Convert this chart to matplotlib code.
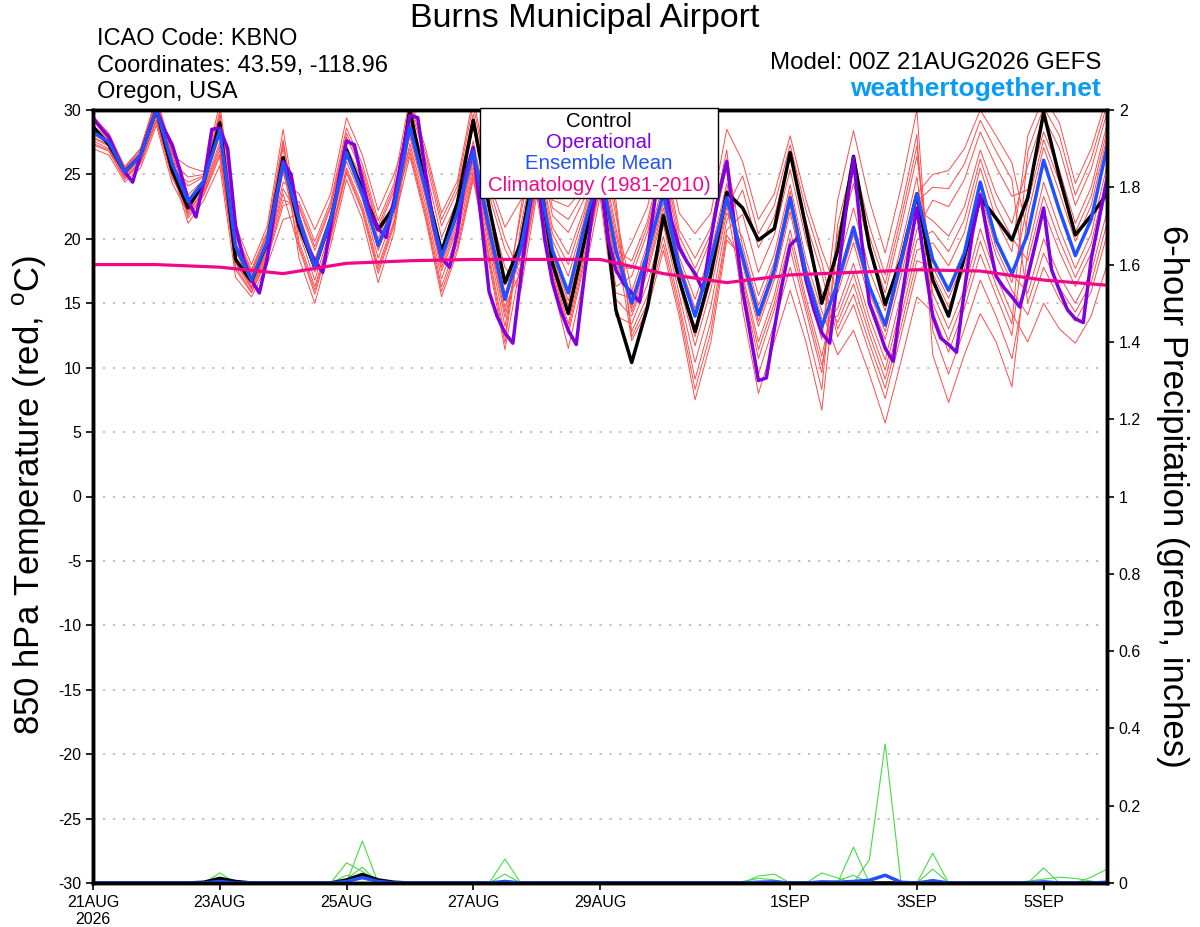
import matplotlib
matplotlib.use("Agg")
import matplotlib.pyplot as plt
import numpy as np
from matplotlib.patches import Rectangle

plt.rcParams['font.family'] = ['Liberation Sans', 'DejaVu Sans']
plt.rcParams['mathtext.fontset'] = 'custom'
plt.rcParams['mathtext.rm'] = 'Liberation Sans'
plt.rcParams['axes.unicode_minus'] = False

# 850 hPa temperature (deg C), 6-hourly from 00Z 21AUG2026
control = [28.7, 27.3, 25.2, 26.5, 30.0, 25.3, 22.4, 24.4, 29.0, 18.4, 16.7, 19.7, 26.3,
           21.0, 17.8, 21.5, 26.9, 23.8, 20.7, 22.5, 30.0, 24.0, 19.0, 22.8, 29.2, 22.5,
           16.6, 19.7, 26.5, 18.1, 14.2, 19.7, 25.5, 14.5, 10.4, 14.7, 21.8, 16.8, 12.8,
           17.3, 23.6, 22.4, 19.9, 20.8, 26.7, 20.9, 15.0, 19.1, 26.4, 19.4, 14.9, 18.4,
           23.5, 16.8, 14.0, 18.6, 23.2, 21.6, 19.9, 23.2, 29.8, 24.8, 20.3, 21.8, 23.5]

ens_mean = [28.3, 27.5, 25.2, 26.5, 30.0, 25.8, 22.9, 24.5, 28.4, 19.4, 16.8, 19.8, 25.9,
            21.5, 17.8, 21.5, 26.7, 23.5, 19.5, 22.4, 28.7, 23.8, 18.6, 22.0, 26.8, 20.8,
            15.3, 19.3, 25.5, 19.1, 15.8, 20.9, 25.5, 19.1, 15.0, 18.9, 23.5, 17.8, 14.0,
            18.4, 23.2, 18.6, 14.1, 17.6, 23.2, 17.3, 13.2, 16.6, 20.9, 16.3, 13.3, 18.3,
            23.5, 18.4, 16.0, 18.9, 24.4, 19.9, 17.3, 20.4, 26.1, 22.2, 18.7, 21.5, 27.1]

# operational run, 3-hourly
operational = [29.4, 28.6, 27.9, 26.5, 25.2, 24.4, 26.5, 28.3, 30.0, 28.5, 27.3, 25.3, 23.0,
               21.7, 24.5, 28.5, 28.6, 27.0, 21.0, 18.4, 16.8, 15.8, 18.5, 22.5, 26.0, 25.0,
               21.5, 19.5, 18.3, 17.4, 21.0, 24.5, 27.6, 27.3, 24.5, 22.0, 20.8, 20.1, 23.0,
               26.5, 29.6, 29.4, 25.0, 21.0, 18.5, 17.8, 20.5, 25.0, 27.1, 21.5, 15.9, 14.0,
               12.7, 11.9, 17.0, 22.0, 25.5, 20.0, 16.6, 14.5, 12.9, 11.8, 17.0, 22.0, 25.0,
               20.0, 17.6, 16.5, 15.8, 15.1, 19.0, 23.3, 25.0, 21.5, 19.3, 18.2, 17.3, 16.0,
               20.0, 23.5, 26.0, 21.0, 16.0, 12.5, 9.0, 9.2, 13.0, 16.5, 19.5, 20.1, 16.8,
               14.5, 12.7, 11.9, 17.0, 22.0, 26.3, 20.0, 15.0, 13.3, 11.5, 10.5, 15.0, 19.0,
               22.4, 18.0, 14.0, 12.3, 11.8, 11.2, 16.0, 20.4, 23.4, 20.0, 17.1, 16.2, 15.5,
               14.7, 17.1, 19.7, 22.4, 17.6, 16.0, 14.5, 13.8, 13.5, 18.4, 21.5, 24.7]

# climatology (1981-2010), daily
climatology = [18.0, 18.0, 17.8, 17.3, 18.1, 18.3, 18.4, 18.4, 18.4, 17.3, 16.6, 17.2,
               17.4, 17.6, 17.5, 16.8, 16.4]

member_01 = [29.5, 28.2, 25.6, 27.0, 31.0, 26.8, 23.4, 24.6, 28.8, 19.7, 17.0, 20.0, 26.4,
             22.4, 19.1, 22.4, 27.9, 25.1, 20.7, 23.7, 27.9, 23.1, 17.5, 20.8, 26.0, 19.8,
             13.9, 19.3, 25.5, 19.1, 15.8, 20.9, 25.5, 19.1, 18.3, 21.4, 26.7, 20.7, 18.5,
             20.9, 26.9, 16.3, 10.7, 14.5, 19.2, 14.4, 9.6, 19.5, 24.3, 19.3, 15.8, 20.9,
             26.4, 17.3, 14.7, 17.7, 22.9, 18.7, 16.0, 14.1, 17.8, 15.3, 13.6, 15.9, 20.3]
member_02 = [29.1, 28.0, 25.5, 26.9, 30.7, 26.5, 25.6, 25.2, 30.5, 21.0, 18.0, 21.0, 28.5,
             21.0, 17.4, 21.2, 26.4, 23.6, 19.1, 22.3, 30.3, 26.1, 21.0, 23.7, 29.7, 23.4,
             19.2, 16.8, 23.9, 17.1, 12.6, 18.0, 23.9, 15.3, 14.0, 17.4, 22.0, 16.5, 11.7,
             16.1, 22.0, 20.1, 15.6, 18.8, 24.2, 18.4, 14.4, 11.0, 12.9, 9.5, 5.7, 10.5,
             15.5, 14.3, 11.2, 14.6, 18.8, 15.6, 12.5, 21.9, 27.1, 23.6, 19.8, 22.6, 27.9]
member_03 = [28.8, 27.8, 25.4, 26.7, 30.5, 26.3, 22.3, 24.0, 27.5, 18.6, 16.3, 19.2, 24.4,
             23.5, 20.7, 23.5, 29.4, 26.5, 22.2, 25.0, 28.7, 24.0, 18.6, 21.8, 26.8, 20.8,
             15.3, 21.9, 28.0, 21.8, 20.5, 23.1, 28.0, 21.8, 15.9, 19.6, 24.4, 18.6, 15.3,
             19.0, 24.3, 18.0, 13.2, 16.8, 22.1, 16.5, 12.2, 23.0, 28.4, 23.0, 18.9, 24.0,
             30.0, 12.9, 9.5, 13.0, 16.8, 14.0, 10.7, 17.5, 22.2, 19.0, 16.3, 18.9, 23.9]
member_04 = [28.5, 27.6, 25.3, 26.6, 30.2, 26.0, 24.8, 25.0, 29.9, 20.5, 17.6, 20.6, 27.7,
             19.8, 16.3, 20.4, 25.5, 22.6, 17.9, 21.4, 26.4, 21.5, 15.5, 19.0, 24.6, 18.0,
             11.4, 18.1, 24.7, 18.2, 14.3, 19.5, 24.7, 17.3, 19.7, 22.5, 28.0, 22.0, 20.4,
             22.0, 28.5, 26.0, 21.5, 23.5, 28.0, 23.0, 19.1, 15.8, 19.7, 15.3, 12.2, 17.1,
             22.3, 21.4, 20.2, 22.5, 26.9, 23.5, 21.2, 25.7, 29.5, 27.0, 22.6, 25.4, 29.8]
member_05 = [28.3, 27.5, 25.2, 26.5, 30.0, 25.8, 21.6, 23.4, 26.4, 17.6, 15.8, 18.4, 22.6,
             22.9, 19.8, 22.9, 28.6, 25.8, 21.4, 24.3, 31.0, 27.0, 22.0, 24.5, 31.0, 24.5,
             20.9, 23.0, 29.0, 23.0, 22.5, 24.0, 29.0, 23.0, 12.8, 15.6, 20.2, 15.0, 9.1,
             13.6, 20.7, 21.9, 17.4, 20.3, 25.4, 19.9, 15.9, 13.5, 16.5, 12.6, 9.1, 14.0,
             19.1, 19.7, 17.9, 20.5, 25.5, 21.5, 19.0, 28.0, 31.0, 29.0, 24.3, 27.0, 31.0]
member_06 = [28.1, 27.4, 25.1, 26.4, 29.8, 25.6, 24.1, 24.8, 29.3, 20.1, 17.3, 20.3, 27.1,
             18.5, 15.0, 19.5, 24.6, 21.5, 16.6, 20.5, 28.4, 23.6, 18.1, 21.4, 26.5, 20.4,
             14.7, 17.5, 24.3, 17.7, 13.4, 18.8, 24.3, 16.3, 17.1, 20.5, 25.5, 19.7, 16.9,
             20.0, 25.6, 14.5, 8.0, 12.0, 16.0, 12.0, 6.7, 17.9, 22.4, 17.6, 14.4, 19.4,
             24.8, 15.8, 13.0, 16.1, 20.8, 17.1, 14.2, 12.0, 15.0, 13.0, 11.9, 14.0, 18.0]
member_07 = [27.8, 27.2, 24.9, 26.2, 29.6, 25.3, 21.2, 23.0, 25.7, 17.0, 15.5, 18.0, 21.5,
             21.9, 18.4, 21.9, 27.2, 24.5, 20.0, 23.1, 27.0, 22.1, 16.3, 19.7, 25.2, 18.7,
             12.4, 21.0, 27.1, 20.9, 18.8, 22.3, 27.1, 20.9, 14.6, 18.2, 22.8, 17.2, 13.0,
             17.4, 22.7, 15.5, 9.5, 13.4, 17.8, 13.3, 8.3, 21.1, 26.1, 21.0, 17.2, 22.3,
             28.1, 11.0, 7.3, 11.0, 14.2, 12.0, 8.5, 19.1, 24.4, 20.8, 17.7, 20.4, 25.7]
member_08 = [27.6, 27.0, 24.8, 26.0, 29.3, 25.0, 22.9, 24.5, 28.4, 19.4, 16.8, 19.8, 25.9,
             21.5, 17.8, 21.5, 26.7, 24.0, 19.5, 22.6, 29.7, 25.4, 20.1, 23.0, 28.7, 22.5,
             17.8, 16.0, 23.3, 16.5, 11.5, 17.0, 23.3, 14.0, 13.4, 16.5, 21.1, 15.7, 10.4,
             14.8, 21.4, 23.8, 19.3, 21.7, 26.6, 21.3, 17.3, 12.4, 14.9, 11.2, 7.6, 12.5,
             17.5, 18.4, 16.0, 18.9, 24.4, 19.9, 17.3, 15.8, 20.0, 17.1, 15.0, 17.4, 22.1]
member_09 = [27.3, 26.8, 24.6, 25.8, 29.1, 24.7, 22.6, 24.3, 28.0, 19.0, 16.6, 19.5, 25.2,
             20.5, 16.8, 20.8, 26.0, 23.1, 18.5, 21.9, 27.4, 22.6, 16.9, 20.3, 25.6, 19.3,
             13.2, 20.0, 26.2, 19.9, 17.1, 21.5, 26.2, 19.9, 12.1, 14.5, 19.1, 14.0, 7.5,
             12.0, 19.9, 18.6, 14.1, 17.6, 23.2, 17.3, 13.2, 14.6, 18.1, 13.9, 10.6, 15.6,
             20.7, 23.0, 22.5, 24.6, 28.3, 25.6, 23.3, 23.8, 28.3, 25.3, 21.2, 24.0, 28.9]
member_10 = [27.0, 26.5, 24.4, 25.5, 28.8, 24.3, 22.0, 23.7, 26.9, 18.1, 16.1, 18.8, 23.5,
             19.3, 15.7, 20.0, 25.1, 22.1, 17.3, 21.0, 29.2, 24.6, 19.3, 22.3, 27.6, 21.5,
             16.4, 18.8, 25.2, 18.7, 15.2, 20.3, 25.2, 18.3, 15.0, 18.9, 23.5, 17.8, 14.0,
             18.3, 23.2, 17.2, 12.0, 15.6, 20.7, 15.4, 10.9, 16.6, 20.9, 16.3, 13.3, 18.3,
             23.5, 25.0, 25.3, 27.0, 30.0, 28.0, 25.9, 20.4, 26.1, 22.2, 18.7, 21.5, 27.1]
member_11 = [29.3, 28.1, 25.5, 27.0, 30.8, 26.6, 22.8, 24.4, 28.2, 19.2, 16.7, 19.6, 25.5,
             19.5, 16.0, 20.2, 25.3, 22.3, 17.6, 21.2, 29.0, 24.3, 19.0, 22.0, 27.2, 21.2,
             15.8, 18.4, 25.0, 18.4, 14.8, 19.9, 25.0, 17.8, 17.7, 21.0, 26.1, 20.2, 17.7,
             20.4, 26.2, 19.4, 14.8, 18.2, 23.7, 17.8, 13.8, 14.0, 17.3, 13.2, 9.8, 14.8,
             19.9, 20.6, 19.0, 21.5, 26.2, 22.5, 20.1, 18.3, 23.3, 19.9, 17.0, 19.6, 24.8]
member_12 = [28.6, 27.7, 25.3, 26.6, 30.3, 26.1, 21.8, 23.5, 26.6, 17.8, 15.9, 18.6, 23.0,
             22.6, 19.4, 22.6, 28.2, 25.4, 21.0, 24.0, 28.2, 23.4, 17.8, 21.1, 26.2, 20.1,
             14.3, 22.4, 28.5, 22.4, 21.5, 23.6, 28.5, 22.4, 12.4, 15.0, 19.6, 14.5, 8.3,
             12.8, 20.3, 18.3, 13.6, 17.2, 22.6, 16.9, 12.7, 20.3, 25.2, 20.2, 16.5, 21.6,
             27.2, 15.0, 12.1, 15.4, 19.8, 16.4, 13.4, 26.8, 30.2, 28.0, 23.4, 26.2, 30.4]
member_13 = [27.9, 27.3, 25.0, 26.3, 29.7, 25.4, 24.4, 24.9, 29.6, 20.3, 17.4, 20.4, 27.4,
             21.2, 17.6, 21.3, 26.5, 23.8, 19.3, 22.4, 26.7, 21.8, 15.9, 19.3, 24.9, 18.4,
             11.9, 20.5, 26.6, 20.4, 18.0, 21.9, 26.6, 20.4, 14.3, 17.8, 22.4, 16.8, 12.4,
             16.8, 22.4, 24.9, 20.4, 22.6, 27.3, 22.2, 18.2, 13.0, 15.7, 11.9, 8.4, 13.2,
             18.3, 17.8, 15.4, 18.3, 23.6, 19.3, 16.6, 22.8, 27.7, 24.4, 20.5, 23.3, 28.4]
member_14 = [27.4, 26.9, 24.7, 25.9, 29.2, 24.8, 22.1, 23.8, 27.2, 18.3, 16.2, 19.0, 23.9,
             21.7, 18.1, 21.7, 26.9, 24.2, 19.7, 22.8, 30.6, 26.6, 21.5, 24.1, 30.4, 24.0,
             20.0, 17.2, 24.1, 17.4, 13.0, 18.4, 24.1, 15.8, 15.4, 19.2, 24.0, 18.2, 14.6,
             18.6, 23.8, 16.8, 11.4, 15.0, 20.0, 14.9, 10.2, 16.2, 20.3, 15.8, 12.8, 17.7,
             22.9, 24.0, 23.9, 25.8, 29.2, 26.8, 24.6, 15.0, 18.9, 16.2, 14.3, 16.6, 21.2]
members = [member_01, member_02, member_03, member_04, member_05, member_06, member_07,
           member_08, member_09, member_10, member_11, member_12, member_13, member_14]

# 6-hour precipitation (inches)
precip_01 = [0, 0, 0, 0, 0, 0, 0, 0, 0.026, 0, 0, 0, 0,
             0, 0, 0, 0.052, 0.03, 0, 0, 0, 0, 0, 0, 0, 0,
             0, 0, 0, 0, 0, 0, 0, 0, 0, 0, 0, 0, 0,
             0, 0, 0, 0, 0, 0, 0, 0, 0, 0.093, 0, 0, 0,
             0, 0.077, 0, 0, 0, 0, 0, 0, 0.039, 0, 0, 0, 0]
precip_02 = [0, 0, 0, 0, 0, 0, 0, 0, 0, 0, 0, 0, 0,
             0, 0, 0, 0, 0.109, 0, 0, 0, 0, 0, 0, 0, 0,
             0.062, 0, 0, 0, 0, 0, 0, 0, 0, 0, 0, 0, 0,
             0, 0, 0, 0, 0, 0, 0, 0, 0, 0, 0.06, 0.36, 0,
             0, 0, 0, 0, 0, 0, 0, 0, 0, 0, 0, 0.015, 0.036]
precip_03 = [0, 0, 0, 0, 0, 0, 0, 0, 0, 0, 0, 0, 0,
             0, 0, 0, 0.01, 0.041, 0, 0, 0, 0, 0, 0, 0, 0,
             0.023, 0, 0, 0, 0, 0, 0, 0, 0, 0, 0, 0, 0,
             0, 0, 0, 0.018, 0.023, 0, 0, 0.026, 0.013, 0, 0, 0, 0,
             0, 0.036, 0, 0, 0, 0, 0, 0, 0, 0, 0, 0, 0]
precip_04 = [0, 0, 0, 0, 0, 0, 0, 0.002, 0.006, 0, 0, 0, 0,
             0, 0, 0, 0.02, 0.012, 0, 0, 0, 0, 0, 0, 0, 0,
             0, 0, 0, 0, 0, 0, 0, 0, 0, 0, 0, 0, 0,
             0, 0, 0.004, 0.012, 0.008, 0, 0, 0.002, 0.006, 0.02, 0, 0, 0,
             0, 0.008, 0.002, 0, 0, 0, 0, 0.005, 0.01, 0.015, 0.012, 0.005, 0]
precip_members = [precip_01, precip_02, precip_03, precip_04]

precip_control = [0, 0, 0, 0, 0, 0, 0, 0.002, 0.012, 0.004, 0, 0, 0,
                  0, 0, 0, 0.008, 0.022, 0.008, 0.002, 0, 0, 0, 0, 0, 0,
                  0, 0, 0, 0, 0, 0, 0, 0, 0, 0, 0, 0, 0,
                  0, 0, 0, 0, 0, 0, 0, 0, 0, 0, 0, 0, 0,
                  0, 0, 0, 0, 0, 0, 0, 0, 0, 0, 0, 0, 0]
precip_mean = [0, 0, 0, 0, 0, 0, 0, 0, 0.004, 0, 0, 0, 0,
               0, 0, 0, 0.004, 0.014, 0.004, 0, 0, 0, 0, 0, 0, 0,
               0.004, 0, 0, 0, 0, 0, 0, 0, 0, 0, 0, 0, 0,
               0, 0, 0, 0.002, 0.003, 0, 0, 0.003, 0.002, 0.004, 0.007, 0.02, 0.002,
               0, 0.006, 0, 0, 0, 0, 0, 0, 0.003, 0, 0, 0, 0.002]

tick_days = [0, 2, 4, 6, 8, 11, 13, 15]
tick_labels = ['21AUG\n2026', '23AUG', '25AUG', '27AUG', '29AUG', '1SEP', '3SEP', '5SEP']
precip_ticks = [0, 0.2, 0.4, 0.6, 0.8, 1, 1.2, 1.4, 1.6, 1.8, 2]
precip_tick_labels = ['0', '0.2', '0.4', '0.6', '0.8', '1', '1.2', '1.4', '1.6', '1.8', '2']

hours = np.arange(len(control)) * 6
oper_hours = np.arange(len(operational)) * 3
clim_hours = np.arange(len(climatology)) * 24

W, H = 1200, 927
fig = plt.figure(figsize=(W / 100, H / 100), dpi=100)
ax = fig.add_axes([93 / W, 44 / H, 1014 / W, 773 / H])
ax2 = ax.twinx()

# dotted grid
for y in range(-25, 30, 5):
    ax.axhline(y, color='#b0b0b0', lw=1.1, ls=(0, (1.5, 5)), zorder=0)

for m in members:
    ax.plot(hours, m, color='#ff4c4c', lw=0.7, zorder=1)
ax.plot(hours, control, color='black', lw=2.5, zorder=3)
ax.plot(oper_hours, operational, color='#8000e0', lw=2.5, zorder=4)
ax.plot(hours, ens_mean, color='#2050ff', lw=2.5, zorder=5)
ax.plot(clim_hours, climatology, color='#f0088a', lw=2.3, zorder=6)

ax.set_xlim(0, 384)
ax.set_ylim(-30, 30)
ax.set_yticks(range(-30, 31, 5))
ax.set_xticks([d * 24 for d in tick_days])
ax.set_xticklabels(tick_labels)
ax.tick_params(axis='both', labelsize=11.5, length=5, width=1.2, direction='out')

for g in precip_members:
    ax2.plot(hours, g, color='#44dd44', lw=0.8)
ax2.plot(hours, precip_control, color='black', lw=2.5)
ax2.plot(hours, precip_mean, color='#2050ff', lw=2.5)
ax2.set_ylim(0, 2)
ax2.set_yticks(precip_ticks)
ax2.set_yticklabels(precip_tick_labels)
ax2.tick_params(axis='y', labelsize=11.5, length=5, width=1.2, direction='out')

for a in (ax, ax2):
    for s in a.spines.values():
        s.set_linewidth(2.5)

# legend box
ax2.add_patch(Rectangle((0.3817, 0.886), 0.2347, 0.117, transform=ax2.transAxes,
                        facecolor='white', edgecolor='black', lw=1.0, zorder=10,
                        clip_on=False))
legend_items = [('Control', 'black'), ('Operational', '#8000e0'),
                ('Ensemble Mean', '#2050ff'), ('Climatology (1981-2010)', '#f0088a')]
for (label, col), ly in zip(legend_items, [0.9845, 0.9575, 0.9305, 0.9025]):
    ax2.text(0.499, ly, label, color=col, fontsize=14.7, ha='center', va='center',
             transform=ax2.transAxes, zorder=11)

# header texts
fig.text(585 / W, 1 - 19 / H, 'Burns Municipal Airport', fontsize=24.5, ha='center', va='center')
fig.text(97 / W, 1 - 39 / H, 'ICAO Code: KBNO', fontsize=17, ha='left', va='center')
fig.text(97 / W, 1 - 66 / H, 'Coordinates: 43.59, -118.96', fontsize=17, ha='left', va='center')
fig.text(97 / W, 1 - 92 / H, 'Oregon, USA', fontsize=17, ha='left', va='center')
fig.text(1101 / W, 1 - 63 / H, 'Model: 00Z 21AUG2026 GEFS', fontsize=17.3, ha='right', va='center')
fig.text(1101 / W, 1 - 89 / H, 'weathertogether.net', fontsize=19, fontweight='bold',
         color='#0a9cf5', ha='right', va='center')

fig.text(30 / W, 1 - 495 / H, r'850 hPa Temperature (red, $^{\mathrm{o}}$C)', fontsize=25,
         rotation=90, ha='center', va='center')
fig.text(1172 / W, 1 - 496 / H, '6-hour Precipitation (green, inches)', fontsize=25,
         rotation=-90, ha='center', va='center')

fig.savefig('out.png', dpi=100)
